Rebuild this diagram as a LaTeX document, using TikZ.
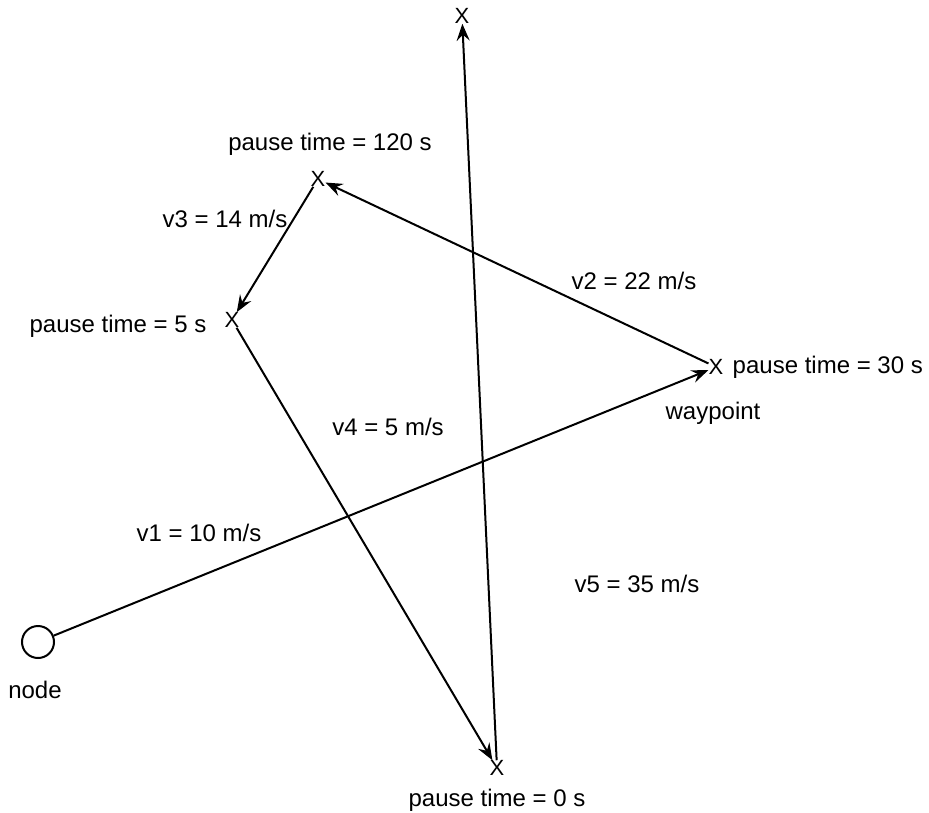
\documentclass[tikz,border=0pt]{standalone}
\usepackage{fontspec}
\setmainfont{Liberation Sans}
\usetikzlibrary{arrows.meta,positioning}
\tikzset{
  wp/.style={inner sep=0pt,font=\fontsize{22}{26}\selectfont},
  lbl/.style={inner sep=0pt,font=\fontsize{24}{28}\selectfont},
  leg/.style={line width=2pt,-{Stealth[length=17pt,width=13pt,inset=6pt]}}
}
\begin{document}
\begin{tikzpicture}[x=1pt,y=-1pt]
\useasboundingbox (0,0) rectangle (929,812);
% mobile node and waypoints
\node[draw,circle,line width=2pt,minimum size=32pt,inner sep=0pt] (mn) at (38,642) {};
\node[wp] (p30) at (716,367) {X};
\node[wp] (p120) at (318,179) {X};
\node[wp] (p5) at (232,320) {X};
\node[wp] (p0) at (497,768) {X};
\node[wp] (ptop) at (462,16) {X};
% legs of the random waypoint path
\draw[leg] (mn) -- (p30);
\draw[leg] (p30) -- (p120);
\draw[leg] (p120) -- (p5);
\draw[leg] (p5) -- (p0);
\draw[leg] (p0) -- (ptop);
% pause times
\node[lbl,right=9pt of p30] (t30) {pause time = 30 s};
\node[lbl] (t120) at (330,144) {pause time = 120 s};
\node[lbl] (t5) at (118,326) {pause time = 5 s};
\node[lbl] (t0) at (497,800) {pause time = 0 s};
\node[lbl] (wl) at (713,413) {waypoint};
\node[lbl] (nl) at (35,690) {node};
% speeds
\foreach \nm/\x/\y/\v in {s1/199/533/1 = 10,s2/634/281/2 = 22,s3/225/219/3 = 14,
                          s4/388/427/4 = 5,s5/637/584/5 = 35}{
  \node[lbl] (\nm) at (\x,\y) {v\v\ m/s};
}
\end{tikzpicture}
\end{document}
